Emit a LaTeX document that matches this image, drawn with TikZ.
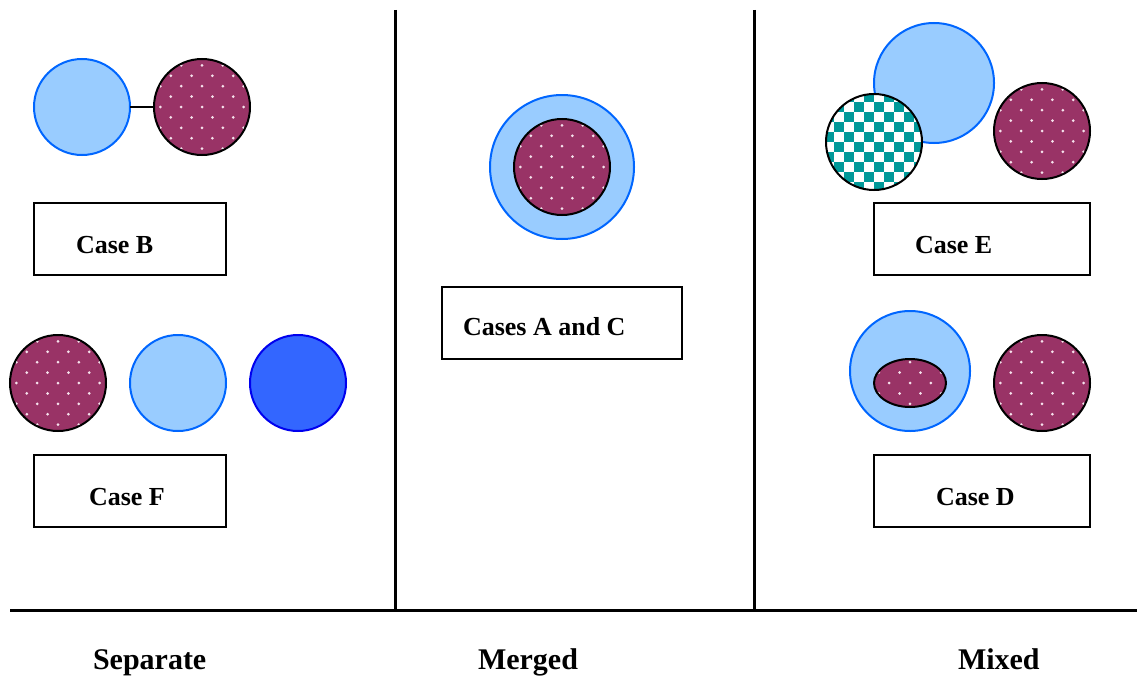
\documentclass[tikz,border=0pt]{standalone}
\usepackage{fontspec}
\setmainfont{Liberation Serif}
\usetikzlibrary{shapes.geometric}
\definecolor{lightfill}{HTML}{99CCFF}
\definecolor{lightedge}{HTML}{0066FF}
\definecolor{darkfill}{HTML}{3366FF}
\definecolor{darkedge}{HTML}{0000EE}
\definecolor{wine}{HTML}{993366}
\definecolor{dotc}{HTML}{F6E2EC}
\definecolor{checkc}{HTML}{009999}
\tikzset{
  base/.style={inner sep=0pt, outer sep=0pt},
  disc/.style={base, circle, minimum size=#1},
  lightdisc/.style={disc=#1, fill=lightfill, draw=lightedge, line width=2pt},
  darkdisc/.style={disc=#1, fill=darkfill, draw=darkedge, line width=2pt},
  dotted wine/.style={fill=wine, draw=black, line width=2pt,
    path picture={
      \foreach \j [evaluate=\j as \off using {mod(\j+20,2)*10.4}] in {-6,...,6}
        \foreach \i in {-4,...,3}
          \fill[dotc] ([shift={(\i*20.8+\off,\j*10.4)}]path picture bounding box.center) circle (1.5pt);
    }},
  winedisc/.style={disc=#1, dotted wine},
  checkdisc/.style={disc=#1, fill=white, draw=black, line width=2pt,
    path picture={
      \foreach \j [evaluate=\j as \off using {mod(\j+20,2)*10}] in {-6,...,5}
        \foreach \i in {-4,...,3}
          \fill[checkc] ([shift={(\i*20+\off,\j*10)}]path picture bounding box.center) rectangle ++(10,10);
    }},
  casebox/.style={base, draw=black, line width=2pt, minimum width=#1, minimum height=72pt},
  boxtext/.style={base, anchor=base west, font=\fontsize{26}{30}\selectfont\bfseries},
  headtext/.style={base, anchor=base west, font=\fontsize{30}{34}\selectfont\bfseries},
  rule/.style={line width=3pt, black}
}
\begin{document}
\begin{tikzpicture}[x=1pt, y=-1pt]
\useasboundingbox (0,0) rectangle (1139,677);

% frame of the three columns
\coordinate (baseL) at (10,610);
\coordinate (baseR) at (1137,610);
\coordinate (div1top) at (395,10);
\coordinate (div1bot) at (395,610);
\coordinate (div2top) at (754,10);
\coordinate (div2bot) at (754,610);
\draw[rule] (baseL) -- (baseR);
\draw[rule] (div1top) -- (div1bot);
\draw[rule] (div2top) -- (div2bot);

% column headings
\node[headtext] (hsep) at (93,669) {Separate};
\node[headtext] (hmerge) at (478,669) {Merged};
\node[headtext] (hmix) at (958,669) {Mixed};

% Separate: case B
\node[lightdisc=96pt] (b1) at (82,107) {};
\node[winedisc=96pt] (b2) at (202,107) {};
\draw[line width=1.5pt] (b1) -- (b2);
\node[casebox=192pt] (boxB) at (130,239) {};
\node[boxtext] (tB) at (76,253) {Case B};

% Separate: case F
\node[winedisc=96pt] (f1) at (58,383) {};
\node[lightdisc=96pt] (f2) at (178,383) {};
\node[darkdisc=96pt] (f3) at (298,383) {};
\node[casebox=192pt] (boxF) at (130,491) {};
\node[boxtext] (tF) at (89,505) {Case F};

% Merged: cases A and C
\node[lightdisc=144pt] (m1) at (562,167) {};
\node[winedisc=96pt] (m2) at (562,167) {};
\node[casebox=240pt] (boxAC) at (562,323) {};
\node[boxtext] (tAC) at (463,335) {Cases A and C};

% Mixed: case E
\node[lightdisc=120pt] (e1) at (934,83) {};
\node[checkdisc=96pt] (e2) at (874,142) {};
\node[winedisc=96pt] (e3) at (1042,131) {};
\node[casebox=216pt] (boxE) at (982,239) {};
\node[boxtext] (tE) at (915,253) {Case E};

% Mixed: case D
\node[lightdisc=120pt] (d1) at (910,371) {};
\node[base, ellipse, minimum width=72pt, minimum height=48pt, dotted wine] (d2) at (910,383) {};
\node[winedisc=96pt] (d3) at (1042,383) {};
\node[casebox=216pt] (boxD) at (982,491) {};
\node[boxtext] (tD) at (936,505) {Case D};
\end{tikzpicture}
\end{document}
